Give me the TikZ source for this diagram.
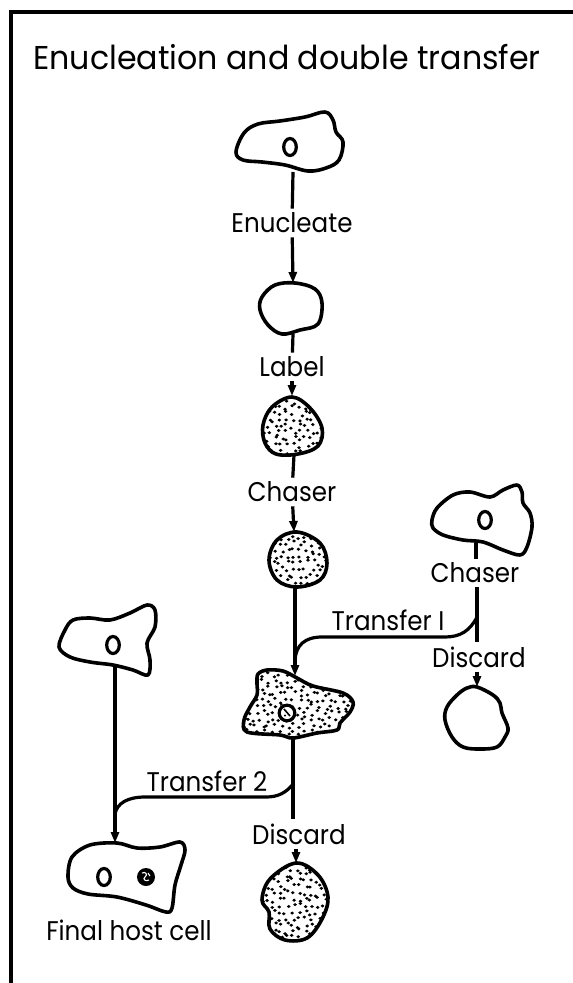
\documentclass[tikz,border=0pt]{standalone}
\usepackage{fontspec}
\setmainfont{Poppins}[FakeStretch=0.91]
\newfontfamily\ttlface{Poppins}[FakeStretch=0.96]
\usetikzlibrary{arrows.meta}

% cell outlines (x to the right, y downwards, 1 unit = 1pt)
\newcommand\cellApath{plot[smooth cycle, tension=0.6] coordinates {(236,152) (244,133) (258,124) (280,121) (305,117) (325,112) (333,120) (336,132) (343,142) (339,160) (326,168) (308,171) (285,165) (262,162) (243,160)}}
\newcommand\cellBpath{plot[smooth cycle, tension=0.6] coordinates {(262,297) (275,285) (295,283) (315,289) (322,303) (318,324) (300,330) (282,334) (268,325) (260,310)}}
\newcommand\cellCpath{plot[smooth cycle, tension=0.6] coordinates {(292,397) (310,408) (322,428) (318,446) (298,454) (276,454) (265,443) (263,425) (272,407)}}
\newcommand\cellDpath{plot[smooth cycle, tension=0.6] coordinates {(297,532) (320,543) (327,563) (320,580) (297,587) (277,580) (269,560) (277,540)}}
\newcommand\cellEpath{plot[smooth cycle, tension=0.55] coordinates {(258,674) (267,670) (283,671) (297,678) (313,686) (343,693) (353,702) (350,712) (340,723) (337,730) (317,733) (293,738) (280,735) (247,732) (244,720) (250,707) (257,695) (257,683)}}
\newcommand\cellFpath{plot[smooth cycle, tension=0.6] coordinates {(296,863) (318,875) (328,897) (322,919) (307,938) (285,940) (270,929) (269,912) (262,900) (270,879)}}
\newcommand\cellGpath{plot[smooth cycle, tension=0.55] coordinates {(59,647) (65,630) (73,620) (90,618) (110,620) (130,613) (147,605) (155,610) (155,627) (147,643) (150,660) (148,675) (133,670) (113,665) (90,662) (70,657)}}
\newcommand\cellHpath{plot[smooth cycle, tension=0.55] coordinates {(432,520) (437,508) (453,495) (470,492) (490,497) (503,490) (517,485) (522,492) (523,503) (530,513) (532,527) (527,547) (520,555) (503,550) (483,542) (463,540) (443,535) (433,528)}}
\newcommand\cellIpath{plot[smooth cycle, tension=0.6] coordinates {(477,687) (493,695) (500,703) (502,713) (508,728) (505,737) (497,747) (480,749) (463,747) (452,737) (445,720) (447,707) (457,695) (467,688)}}
\newcommand\cellJpath{plot[smooth cycle, tension=0.55] coordinates {(72,857) (90,845) (117,843) (137,848) (160,847) (180,842) (185,850) (181,865) (175,885) (172,908) (166,912) (146,905) (117,897) (88,894) (73,888) (68,877)}}

% stippling: jittered grid of dots clipped to an outline
\newcommand\stipple[5]{%
  \begin{scope}
    \clip #1;
    \foreach \i in {0,...,#4}{
      \foreach \j in {0,...,#5}{
        \pgfmathsetmacro\sx{#2+\i*6.3+2.7*rand}
        \pgfmathsetmacro\sy{#3+\j*6.3+2.7*rand}
        \fill (\sx,\sy) ellipse[x radius=1.9pt, y radius=1.6pt];
      }}
  \end{scope}}

\newcommand\lblfont{\fontsize{27}{29}\selectfont}
\newcommand\ttlfont{\ttlface\fontsize{33}{36}\selectfont}

\tikzset{
  cell/.style={line width=3.6pt, line join=round},
  conn/.style={line width=3.2pt},
  arr/.style={conn, -{Triangle[length=11pt,width=8pt]}},
  lbl/.style={inner xsep=0pt, inner ysep=4pt, font=\lblfont},
  nuc/.style={line width=3.2pt},
}

\begin{document}
\begin{tikzpicture}[x=1pt, y=-1pt]
\useasboundingbox (0,0) rectangle (573,983);
\pgfmathsetseed{4711}

% frame
\draw[line width=3.6pt] (11,983) -- (11,12) -- (573,12);

% title
\node[inner sep=0pt, font=\ttlfont] (title) at (287,57) {Enucleation and double transfer};

% cells
\draw[cell] \cellApath;
\draw[nuc] (290,147) ellipse[x radius=6.3, y radius=8.5];
\draw[cell] \cellBpath;
\stipple{\cellCpath}{262}{395}{10}{10}
\draw[cell] \cellCpath;
\stipple{\cellDpath}{268}{531}{10}{10}
\draw[cell] \cellDpath;
\stipple{\cellEpath}{243}{669}{18}{11}
\fill[white] (287,713) circle[radius=9.5pt];
\draw[cell] \cellEpath;
\draw[nuc] (287,713) circle[radius=7.8pt];
\draw[line width=1.6pt] (284,709) -- (290,716);
\fill (285,715.5) circle[radius=1.1pt];
\stipple{\cellFpath}{261}{862}{11}{13}
\draw[cell] \cellFpath;
\draw[cell] \cellGpath;
\draw[nuc] (113,645) ellipse[x radius=6.3, y radius=8.5];
\draw[cell] \cellHpath;
\draw[nuc] (485,520) ellipse[x radius=6.3, y radius=8.5];
\draw[cell] \cellIpath;
\draw[cell] \cellJpath;
\draw[nuc] (104,877) ellipse[x radius=6.3, y radius=8.5];
\fill (146,877) circle[radius=9pt];
\draw[white, line width=1.1pt] (142,873) .. controls (146,871) and (148,875) .. (145,877) .. controls (142,879) and (146,882) .. (149,880);
\draw[white, line width=1.1pt] (148,873) -- (150,876);

% anchor points on the outlines
\coordinate (cA-b) at (293,172);
\coordinate (cB-t) at (293,283);
\coordinate (cB-b) at (293,334);
\coordinate (cC-t) at (292,396);
\coordinate (cC-b) at (294,455);
\coordinate (cD-t) at (294,532);
\coordinate (cD-b) at (295,588);
\coordinate (cE-t) at (295,676);
\coordinate (cE-b) at (293,738);
\coordinate (cF-t) at (296,863);
\coordinate (cG-b) at (115,667);
\coordinate (cJ-t) at (115,843);
\coordinate (cH-b) at (476,542);
\coordinate (cI-t) at (477,687);
\coordinate (t1a) at (477,617);
\coordinate (t1b) at (295,660);
\coordinate (t2a) at (294,783);
\coordinate (t2b) at (115,814);

% labels
\node[lbl] (enuc) at (292,223) {Enucleate};
\node[lbl] (lab) at (292,367) {Label};
\node[lbl] (chA) at (292,492) {Chaser};
\node[lbl] (tr1) at (388,620) {Transfer I};
\node[lbl] (chB) at (475,573) {Chaser};
\node[lbl] (dsB) at (479,657) {Discard};
\node[lbl] (tr2) at (207,781) {Transfer 2};
\node[lbl] (dsA) at (299,834) {Discard};
\node[lbl] (fin) at (129,930) {Final host cell};

% main column
\draw[conn] (cA-b) -- (enuc);
\draw[arr] (enuc) -- (cB-t);
\draw[conn] (cB-b) -- (lab);
\draw[arr] (lab) -- (cC-t);
\draw[conn] (cC-b) -- (chA);
\draw[arr] (chA) -- (cD-t);
\draw[arr] (cD-b) -- (cE-t);
\draw[conn] (cE-b) -- (dsA.north -| cE-b);
\draw[arr] (dsA.south -| cF-t) -- (cF-t);

% right column
\draw[conn] (cH-b) -- (chB.north -| cH-b);
\draw[conn] (chB.south -| cI-t) -- (dsB.north -| cI-t);
\draw[arr] (dsB.south -| cI-t) -- (cI-t);

% left column
\draw[arr] (cG-b) -- (cJ-t);

% transfers
\draw[conn] (t1a) .. controls (470,631) and (460,637) .. (445,637) -- (322,637) .. controls (305,637) and (296,645) .. (t1b);
\draw[conn] (t2a) .. controls (286,793) and (278,797) .. (266,797) -- (145,797) .. controls (128,797) and (117,803) .. (t2b);
\end{tikzpicture}
\end{document}
